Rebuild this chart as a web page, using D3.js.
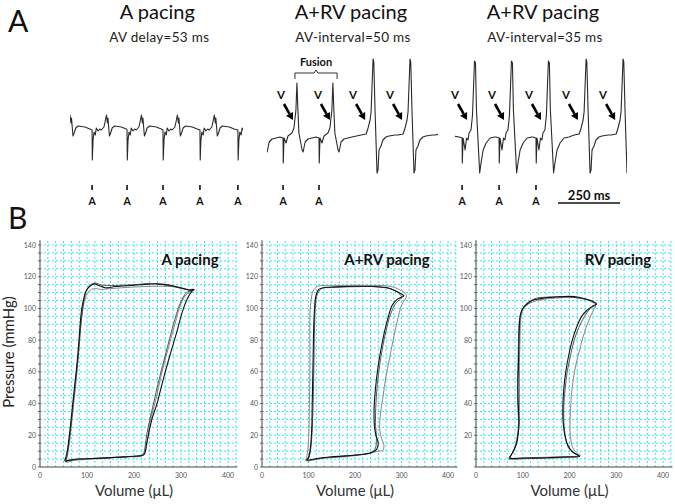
<!DOCTYPE html>
<html>
<head>
<meta charset="utf-8">
<script src="https://cdn.jsdelivr.net/npm/d3@7"></script>
<style>
  body { margin: 0; background: #fff; }
  text { font-family: Lato, "Open Sans", sans-serif; }
</style>
</head>
<body>
<div id="chart"></div>
<script>
// ---------- panel A: ECG traces (time in ms, amplitude in arbitrary mV) ----------
// beat shapes, [ms offset, amplitude]
const aBeat = [[0,0],[1,-1.2],[4,-0.4],[8,-0.08],[13,-0.2],[17,0.08],[24,-0.04],[31,0.04],[37,0],[48,0.12],[54,0.4],[58,0.6],[62,0.28],[64,0.48],[70,-0.24],[75,-0.12],[81,0.08],[91,0.16],[118,0.12],[138,0.04]];
const fusionBeat = [[-12,-0.28],[0,-0.32],[1,-1.32],[4,-0.32],[12,-0.52],[20,-0.24],[36,-0.12],[44,0.08],[52,0.8],[56,1.88],[60,0.8],[64,-0.12],[77,-0.8],[81,-0.88],[89,-0.48],[101,-0.36],[133,-0.28]];
const vBeat = [[-48,-0.2],[-28,-0.16],[-20,0.08],[-12,0.4],[-8,0.72],[0,2.84],[3,2.72],[8,0.8],[16,-1.72],[20,-1.6],[24,-0.8],[32,-0.64],[40,-0.4],[52,-0.28],[64,-0.24],[89,-0.2]];
const avBeat = [[-12,-0.28],[0,-0.32],[1,-1.32],[4,-0.32],[12,-0.8],[18,-0.32],[24,-0.4],[28,-0.12],[36,0],[42,0.6],[50,2.76],[54,2.68],[58,0.8],[71,-1.72],[77,-1.28],[85,-0.8],[97,-0.52],[113,-0.32],[133,-0.28]];

// beat times (ms)
const paceATimes = [-58, 89, 230, 375, 524, 677];
const fusionTimes = [714, 859, 1004];
const trace2VTimes = [1222, 1371, 1520];
const trace3LeadV = [1431];
const avTimes = [1581, 1730, 1879];
const trace3VTimes = [2081, 2230];
const traceWindows = [[0, 698], [794, 1484], [1552, 2246]];

const aMarks = [89, 230, 375, 524, 677, 859, 1004, 1581, 1730, 1879];
const vMarks = [899, 1048, 1190, 1339, 1601, 1750, 1899, 2048, 2198];
const fusionSpan = [907, 1077];
const scaleBar = [1968, 2218];

const ecgTitles = ["A pacing", "A+RV pacing", "A+RV pacing"];
const ecgSubtitles = ["AV delay=53 ms", "AV-interval=50 ms", "AV-interval=35 ms"];
const ecgTitleTimes = [352, 1133, 1907];

// ---------- panel B: pressure-volume loops [volume µL, pressure mmHg] ----------
const loopA1 = [[53,4],[62,4.2],[80,5],[130,5.6],[180,6.4],[215,7.2],[222,8],[227,15],[238,30],[249,40],[262,55],[276,70],[291,85],[303,98],[315,107],[324,111],[328,112],[318,111.5],[300,113],[280,114.5],[250,115.5],[230,115.3],[200,114.6],[160,113.8],[140,113],[125,114.5],[116,115.5],[106,114],[98,111],[93,106],[89,100],[86,92],[83,80],[79,66],[74,52],[69,38],[64,24],[59,12],[55,6]];
const loopA2 = [[56,3],[70,4],[120,5.2],[200,6.8],[218,7.5],[224,10],[234,28],[246,42],[258,58],[272,74],[287,90],[300,103],[312,109],[322,111],[326,112],[316,112],[290,113.5],[250,114],[200,113.5],[150,112.5],[130,112],[115,112.5],[105,111],[97,107],[92,101],[88,93],[85,82],[81,68],[76,52],[71,38],[66,24],[61,12],[57,5]];
const loopA3 = [[54,3.5],[65,4.5],[110,5.3],[190,6.5],[217,7],[221,9],[228,22],[240,38],[254,56],[268,72],[284,90],[298,103],[312,110],[323,111.5],[310,112],[280,114],[240,115.6],[200,115],[160,114.5],[130,114.8],[118,116],[108,115],[100,112],[94,106],[90,98],[87,90],[84,80],[80,66],[75,52],[70,38],[65,24],[60,12],[56,5]];

const loopB1 = [[96,4.4],[120,5.4],[146,6.3],[180,7],[218,8],[238,9.5],[246,11],[250,15],[245,20],[242,25],[241,36],[243,46],[246,55],[251,66],[257,76],[264,86],[271,94],[280,102],[292,106],[305,108],[300,109],[288,111],[270,113],[240,113.8],[200,114],[160,113.6],[132,113],[122,112],[116,108],[113,100],[111,86],[110,70],[109,55],[108,40],[107,24],[104,12],[100,6]];
const loopB2 = [[94,4],[130,5.5],[180,6.5],[230,8.5],[250,10],[260,10.5],[262,14],[257,18],[253,24],[255,34],[260,44],[266,56],[274,68],[282,80],[291,92],[300,102],[311,108],[306,110],[295,112],[275,114],[240,114.5],[200,114.6],[150,114.3],[120,114],[110,111],[105,104],[103,95],[103,80],[103,60],[102,40],[101,24],[99,12],[96,6]];
const loopB3 = [[98,4.6],[140,6],[200,7.5],[235,9],[244,12],[246,18],[244,28],[245,40],[248,52],[253,64],[259,75],[267,86],[276,96],[287,103],[300,107],[296,109],[280,112],[250,113.6],[200,113.7],[150,113.2],[128,112.5],[119,109],[115,102],[113,90],[112,72],[111,55],[110,40],[108,24],[105,12],[101,6]];

const loopC1 = [[72,5.6],[100,5.7],[122,5.6],[160,5.9],[194,6.3],[222,6.7],[215,8],[205,10],[196,14],[190,20],[186,30],[186,40],[188,50],[192,60],[198,70],[206,80],[215,88],[226,95],[238,99],[250,101.5],[258,103],[250,104.5],[240,105.5],[220,107],[200,107.6],[180,107.3],[158,107],[135,106],[120,105],[108,102.5],[100,100],[95,96],[93,90],[92,80],[91,66],[90,55],[90,45],[91,35],[92,28],[90,20],[87,15],[80,10],[74,7]];
const loopC2 = [[70,5],[110,5.3],[160,5.6],[200,6.2],[224,7.3],[215,9],[206,13],[202,20],[201,26],[202,35],[204,45],[208,55],[214,65],[221,73],[229,82],[238,90],[248,97],[256,102],[248,104],[230,106],[200,107],[170,106.5],[140,105.5],[120,104],[105,101],[98,97],[95,90],[94,80],[93,66],[93,50],[93,35],[92,26],[88,18],[82,11],[74,7]];
const loopC3 = [[73,6],[130,6],[190,6.5],[218,7],[208,9],[198,12],[192,18],[188,28],[188,40],[191,50],[195,60],[202,70],[210,80],[220,88],[232,95],[245,100],[257,102.5],[245,105],[220,106.5],[190,107.5],[160,107.2],[130,106.5],[112,104],[102,101],[96,97],[92,90],[91,80],[90,66],[89,55],[89,45],[90,35],[91,28],[89,20],[85,14],[78,9]];

const pvTitles = ["A pacing", "A+RV pacing", "RV pacing"];
const pressureTicks = [0, 20, 40, 60, 80, 100, 120, 140];
const volumeTicks = [0, 100, 200, 300, 400];

// ---------- drawing ----------
const W = 675, H = 504;
const svg = d3.select("#chart").append("svg")
    .attr("width", W).attr("height", H)
    .style("background", "#fff");

const tScale = d3.scaleLinear().domain([0, 2400]).range([70, 70 + 2400 * 0.248]);
const ampScale = d3.scaleLinear().domain([-2, 3]).range([180, 55]);

svg.append("text").attr("x", 8).attr("y", 32).attr("font-size", 30).attr("fill", "#111").text("A");
svg.append("text").attr("x", 8).attr("y", 229).attr("font-size", 30).attr("fill", "#111").text("B");

ecgTitles.forEach((t, i) => {
    const cx = tScale(ecgTitleTimes[i]);
    svg.append("text").attr("x", cx).attr("y", 19).attr("text-anchor", "middle")
        .attr("font-size", 20).attr("fill", "#111").text(t);
    svg.append("text").attr("x", cx + 2).attr("y", 42).attr("text-anchor", "middle")
        .attr("font-size", 13.5).attr("letter-spacing", 0.3).attr("fill", "#222").text(ecgSubtitles[i]);
});

function buildTrace(beats) {
    return beats.flatMap(([t, shape]) => shape.map(([dt, v]) => [t + dt, v]));
}
const traces = [
    buildTrace(paceATimes.map(t => [t, aBeat])),
    buildTrace([...fusionTimes.map(t => [t, fusionBeat]), ...trace2VTimes.map(t => [t, vBeat])]),
    buildTrace([...trace3LeadV.map(t => [t, vBeat]), ...avTimes.map(t => [t, avBeat]), ...trace3VTimes.map(t => [t, vBeat])])
];

const ecgLine = d3.line().x(d => tScale(d[0])).y(d => ampScale(d[1]));
const defs = svg.append("defs");
traces.forEach((pts, i) => {
    const [w0, w1] = traceWindows[i];
    defs.append("clipPath").attr("id", "clip" + i).append("rect")
        .attr("x", tScale(w0)).attr("y", 40).attr("width", tScale(w1) - tScale(w0)).attr("height", 150);
    svg.append("path").datum(pts)
        .attr("clip-path", `url(#clip${i})`)
        .attr("d", ecgLine)
        .attr("fill", "none").attr("stroke", "#2a2a2a").attr("stroke-width", 1.1)
        .attr("stroke-linejoin", "round");
});

// atrial pacing marks
svg.selectAll(".amark").data(aMarks).enter().append("line")
    .attr("x1", d => tScale(d)).attr("x2", d => tScale(d))
    .attr("y1", 185).attr("y2", 190).attr("stroke", "#111").attr("stroke-width", 1.6);
svg.selectAll(".alab").data(aMarks).enter().append("text")
    .attr("x", d => tScale(d)).attr("y", 205).attr("text-anchor", "middle")
    .attr("font-size", 10.5).attr("font-weight", "bold").attr("fill", "#111").text("A");

// V arrows
vMarks.forEach(t => {
    const tx = tScale(t), ty = 120;
    const sx = tx - 9, sy = 104;
    const dx = tx - sx, dy = ty - sy, len = Math.hypot(dx, dy);
    const ux = dx / len, uy = dy / len;
    const bx = tx - ux * 7, by = ty - uy * 7;
    svg.append("line").attr("x1", sx).attr("y1", sy).attr("x2", bx).attr("y2", by)
        .attr("stroke", "#000").attr("stroke-width", 2.6);
    svg.append("polygon")
        .attr("points", [[tx, ty], [bx - uy * 4, by + ux * 4], [bx + uy * 4, by - ux * 4]].map(p => p.join(",")).join(" "))
        .attr("fill", "#000");
    svg.append("text").attr("x", tx - 12).attr("y", 99).attr("text-anchor", "middle")
        .attr("font-size", 11.5).attr("font-weight", "bold").attr("fill", "#111").text("V");
});

// fusion bracket
{
    const x0 = tScale(fusionSpan[0]), x1 = tScale(fusionSpan[1]), xm = (x0 + x1) / 2;
    svg.append("path")
        .attr("d", `M${x0},79 V73 H${xm - 2} L${xm},70 L${xm + 2},73 H${x1} V79`)
        .attr("fill", "none").attr("stroke", "#333").attr("stroke-width", 1);
    svg.append("text").attr("x", xm).attr("y", 66).attr("text-anchor", "middle")
        .attr("font-size", 11).attr("font-weight", "bold").attr("fill", "#111").text("Fusion");
}

// scale bar
svg.append("line").attr("x1", tScale(scaleBar[0])).attr("x2", tScale(scaleBar[1]))
    .attr("y1", 203).attr("y2", 203).attr("stroke", "#111").attr("stroke-width", 1.3);
svg.append("text").attr("x", (tScale(scaleBar[0]) + tScale(scaleBar[1])) / 2).attr("y", 200)
    .attr("text-anchor", "middle").attr("font-size", 13).attr("font-weight", "bold").attr("fill", "#111").text("250 ms");

// ---------- PV loops ----------
const pvPanels = [
    { left: 40, right: 228, titleX: 190, loops: [loopA2, loopA3, loopA1], showZero: true },
    { left: 262, right: 448, titleX: 387, loops: [loopB2, loopB3, loopB1], showZero: true },
    { left: 476, right: 663, titleX: 618, loops: [loopC2, loopC3, loopC1], showZero: false }
];
const loopColors = ["#888", "#444", "#111"];
const loopWidths = [1, 0.9, 1.1];
const gridV = d3.range(0, 421, 100 / 6);
const gridP = d3.range(5, 141, 5);

pvPanels.forEach((p, i) => {
    const x = d3.scaleLinear().domain([0, 400]).range([p.left, p.right]);
    const y = d3.scaleLinear().domain([0, 140]).range([467, 245]);
    const g = svg.append("g");

    g.selectAll(".gh").data(gridP).enter().append("line")
        .attr("x1", x(0)).attr("x2", x(420)).attr("y1", d => y(d)).attr("y2", d => y(d))
        .attr("stroke", "#3fe0ee").attr("stroke-width", 1).attr("stroke-dasharray", "2,2");
    g.selectAll(".gv").data(gridV.slice(1)).enter().append("line")
        .attr("x1", d => x(d)).attr("x2", d => x(d)).attr("y1", y(0)).attr("y2", y(143))
        .attr("stroke", "#3fe0ee").attr("stroke-width", 1).attr("stroke-dasharray", "2,2");

    // axes
    g.append("line").attr("x1", x(0)).attr("x2", x(0)).attr("y1", y(0)).attr("y2", y(143))
        .attr("stroke", "#444").attr("stroke-width", 1);
    g.append("line").attr("x1", x(0)).attr("x2", x(420)).attr("y1", y(0)).attr("y2", y(0))
        .attr("stroke", "#444").attr("stroke-width", 1);
    g.selectAll(".ytk").data(d3.range(0, 141, 5)).enter().append("line")
        .attr("x1", x(0) - 2).attr("x2", x(0)).attr("y1", d => y(d)).attr("y2", d => y(d))
        .attr("stroke", "#444").attr("stroke-width", 0.8);

    g.selectAll(".ylab").data(pressureTicks.filter(d => p.showZero || d > 0)).enter().append("text")
        .attr("x", x(0) - 4).attr("y", d => y(d) + 2.5).attr("text-anchor", "end")
        .attr("font-size", 7).attr("fill", "#555").text(d => d);
    g.selectAll(".xlab").data(volumeTicks).enter().append("text")
        .attr("x", d => x(d)).attr("y", 478).attr("text-anchor", "middle")
        .attr("font-size", 7).attr("fill", "#555").text(d => d);

    const line = d3.line().x(d => x(d[0])).y(d => y(d[1])).curve(d3.curveCatmullRomClosed.alpha(0.5));
    p.loops.forEach((lp, k) => {
        g.append("path").datum(lp).attr("d", line)
            .attr("fill", "none").attr("stroke", loopColors[k]).attr("stroke-width", loopWidths[k]);
    });

    g.append("text").attr("x", p.titleX).attr("y", 265).attr("text-anchor", "middle")
        .attr("font-size", 15).attr("font-weight", "bold").attr("fill", "#111").text(pvTitles[i]);
    g.append("text").attr("x", x(200)).attr("y", 496).attr("text-anchor", "middle")
        .attr("font-size", 15).attr("fill", "#333").text("Volume (μL)");
});

svg.append("text").attr("transform", "translate(14,352) rotate(-90)")
    .attr("text-anchor", "middle").attr("font-size", 15).attr("fill", "#222").text("Pressure (mmHg)");
</script>
</body>
</html>
